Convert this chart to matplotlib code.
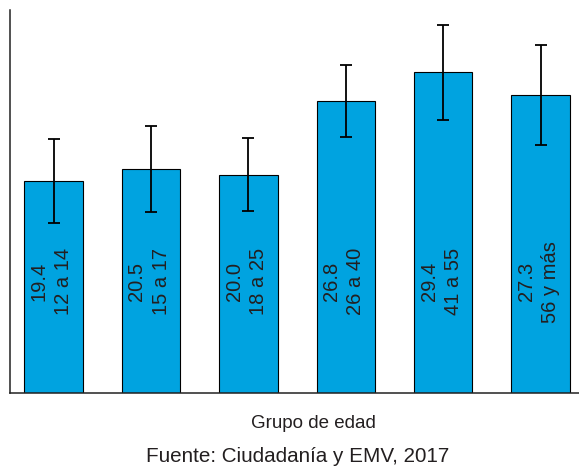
import numpy as np
import matplotlib
matplotlib.use("Agg")
import matplotlib.pyplot as plt

groups = ["12 a 14", "15 a 17", "18 a 25", "26 a 40", "41 a 55", "56 y más"]
values = [19.4, 20.5, 20.0, 26.8, 29.4, 27.3]
errors = [3.85, 3.95, 3.35, 3.3, 4.35, 4.55]

plt.rcParams["font.family"] = ["Liberation Sans", "DejaVu Sans"]
txt = "#231f20"

fig = plt.figure(figsize=(5.79, 4.68), dpi=100)
ax = fig.add_axes([9.5 / 579, 75 / 468, 1 - 9.5 / 579, 383 / 468])

x = np.arange(len(values))
ax.bar(x, values, width=0.6, color="#00a3e0", edgecolor="black", linewidth=0.8, zorder=2)
ax.errorbar(x, values, yerr=errors, fmt="none", ecolor="black", elinewidth=1.3,
            capsize=4, capthick=1.3, zorder=3)

for xi, v, g in zip(x, values, groups):
    ax.text(xi - 0.02, 10.2, f"{v:.1f}\n{g}", rotation=90, ha="center", va="center",
            multialignment="center", fontsize=14.5, color=txt, linespacing=1.35)

ax.set_xlim(-0.452, 5.395)
ax.set_ylim(0, 35.1)
ax.set_xticks([])
ax.set_yticks([])
for s in ["top", "right"]:
    ax.spines[s].set_visible(False)
for s in ["left", "bottom"]:
    ax.spines[s].set_linewidth(1.1)
    ax.spines[s].set_color("#222222")

fig.text(313 / 579, 1 - 424 / 468, "Grupo de edad", ha="center", va="center",
         fontsize=13.5, color=txt)
fig.text(298 / 579, 1 - 456 / 468, "Fuente: Ciudadanía y EMV, 2017", ha="center",
         va="center", fontsize=14.9, color=txt)

fig.savefig("out.png", dpi=100)
